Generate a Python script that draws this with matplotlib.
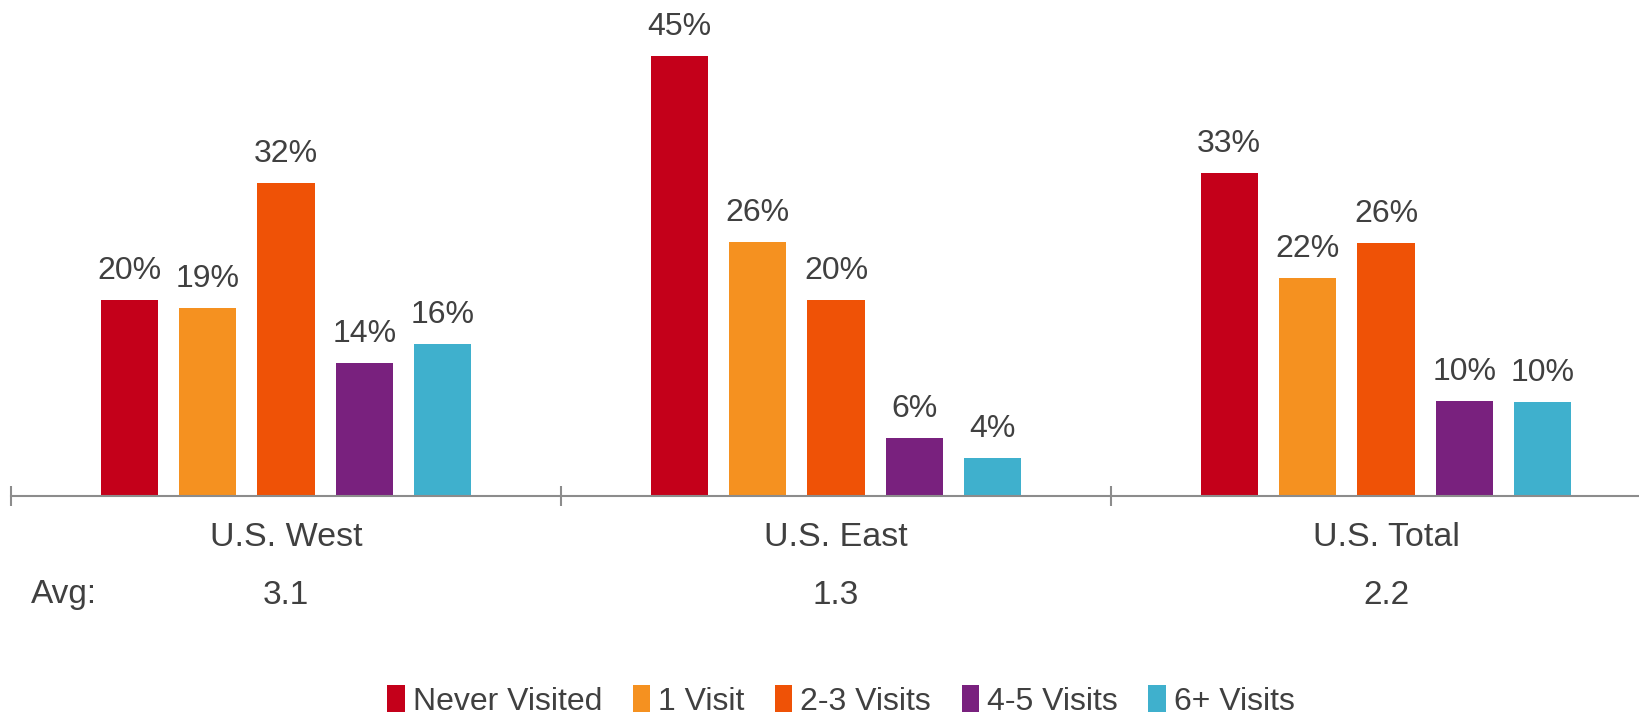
#!/usr/bin/env python3
import matplotlib.pyplot as plt
import numpy as np

plt.rcParams["font.family"] = ["Liberation Sans", "DejaVu Sans"]

regions = ["U.S. West", "U.S. East", "U.S. Total"]
averages = ["3.1", "1.3", "2.2"]
series = ["Never Visited", "1 Visit", "2-3 Visits", "4-5 Visits", "6+ Visits"]
values = {
    "Never Visited": [20, 45, 33],
    "1 Visit": [19.2, 26, 22.3],
    "2-3 Visits": [32, 20, 25.9],
    "4-5 Visits": [13.6, 5.9, 9.7],
    "6+ Visits": [15.5, 3.9, 9.6],
}
labels = {
    "Never Visited": ["20%", "45%", "33%"],
    "1 Visit": ["19%", "26%", "22%"],
    "2-3 Visits": ["32%", "20%", "26%"],
    "4-5 Visits": ["14%", "6%", "10%"],
    "6+ Visits": ["16%", "4%", "10%"],
}
colors = ["#C4001A", "#F59120", "#EF5206", "#79217E", "#3FB0CD"]

text_color = "#404040"
W, H = 1639, 718
fig = plt.figure(figsize=(W / 100, H / 100), dpi=100)
ax = fig.add_axes([11 / W, 1 - 496 / H, 1628 / W, 496 / H])

x = np.arange(len(regions))
step = 0.1426
width = 0.104
for i, s in enumerate(series):
    pos = x + (i - 2) * step
    bars = ax.bar(pos, values[s], width=width, color=colors[i], label=s)
    for b, v, lab in zip(bars, values[s], labels[s]):
        ax.annotate(lab, (b.get_x() + b.get_width() / 2, v),
                    xytext=(0, 10), textcoords="offset points",
                    ha="center", va="bottom", fontsize=23, color=text_color)

ax.set_xlim(-0.5, 2.46)
ax.set_ylim(0, 50.7)
for side in ["top", "right", "left"]:
    ax.spines[side].set_visible(False)
ax.spines["bottom"].set_color("#8C8C8C")
ax.spines["bottom"].set_linewidth(1.5)
ax.set_yticks([])
ax.set_xticks([-0.5, 0.5, 1.5])
ax.set_xticklabels([])
ax.tick_params(axis="x", direction="inout", length=14, width=1.5, color="#8C8C8C")

for xi, name, avg in zip(x, regions, averages):
    ax.text(xi, -(537 - 496) / 9.78, name, ha="center", va="center",
            fontsize=24.5, color=text_color)
    ax.text(xi, -(595 - 496) / 9.78, avg, ha="center", va="center",
            fontsize=24, color=text_color)
fig.text(31 / W, 1 - 595 / H, "Avg:", ha="left", va="center",
         fontsize=24, color=text_color)

fig.legend(loc="center", bbox_to_anchor=(841 / W, 1 - 701 / H), ncol=5,
           frameon=False, fontsize=23, handlelength=0.55, handleheight=0.9,
           handletextpad=0.25, columnspacing=0.95, labelcolor=text_color)

fig.savefig("out.png", dpi=100)
